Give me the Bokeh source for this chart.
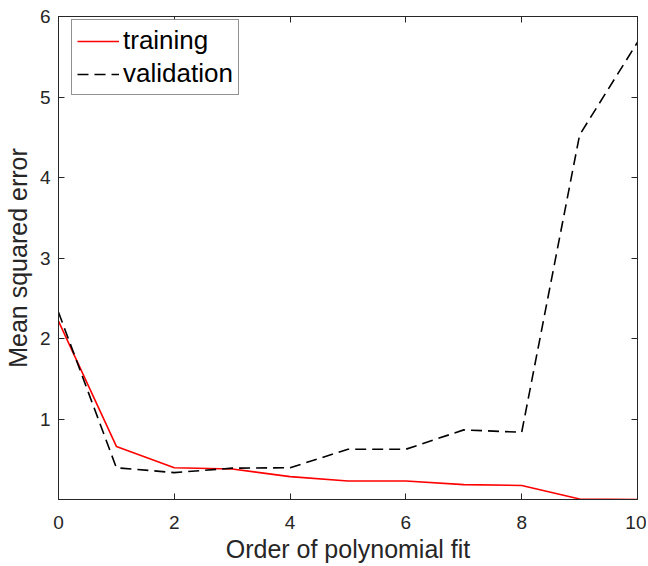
from bokeh.plotting import figure
from bokeh.models import LinearAxis, FixedTicker, Range1d, Legend, LegendItem
from bokeh.embed import file_html
from bokeh.resources import INLINE

order = [0, 1, 2, 3, 4, 5, 6, 7, 8, 9, 10]
training = [2.22, 0.665, 0.40, 0.385, 0.29, 0.235, 0.235, 0.19, 0.18, 0.012, 0.006]
validation = [2.33, 0.40, 0.34, 0.395, 0.40, 0.63, 0.63, 0.87, 0.84, 4.53, 5.68]
x_ticks = [0, 2, 4, 6, 8, 10]
y_ticks = [1, 2, 3, 4, 5, 6]

FONT = "Liberation Sans"
AX = "#262626"

p = figure(output_backend="svg", toolbar_location=None,
           x_range=Range1d(0, 10), y_range=Range1d(0.006, 6),
           frame_width=579, frame_height=483,
           min_border_left=52, min_border_top=16, min_border_right=9, min_border_bottom=56)
p.xgrid.visible = False
p.ygrid.visible = False
p.outline_line_color = AX
p.outline_line_width = 1
p.background_fill_color = "white"
p.border_fill_color = "white"

r1 = p.line(order, training, line_color="#ff0000", line_width=1.6)
r2 = p.line(order, validation, line_color="black", line_width=1.6, line_dash="11 6")

for ax in (p.xaxis[0], p.yaxis[0]):
    ax.major_tick_in = 6
    ax.major_tick_out = 0
    ax.minor_tick_in = 0
    ax.minor_tick_out = 0
    ax.axis_line_color = AX
    ax.major_tick_line_color = AX
    ax.major_label_text_font = FONT
    ax.major_label_text_font_size = "19px"
    ax.major_label_text_color = AX
    ax.axis_label_text_font = FONT
    ax.axis_label_text_font_size = "25px"
    ax.axis_label_text_font_style = "normal"
    ax.axis_label_text_color = AX

p.xaxis[0].ticker = FixedTicker(ticks=x_ticks)
p.yaxis[0].ticker = FixedTicker(ticks=y_ticks)
p.xaxis[0].axis_label = "Order of polynomial fit"
p.yaxis[0].axis_label = "Mean squared error"
p.xaxis[0].major_label_standoff = 16
p.yaxis[0].major_label_standoff = 8
p.xaxis[0].axis_label_standoff = 3
p.yaxis[0].axis_label_standoff = 5

top = LinearAxis(ticker=FixedTicker(ticks=x_ticks),
                 major_label_overrides={t: "" for t in x_ticks})
right = LinearAxis(ticker=FixedTicker(ticks=y_ticks),
                   major_label_overrides={t: "" for t in y_ticks})
for ax in (top, right):
    ax.major_tick_in = 6
    ax.major_tick_out = 0
    ax.minor_tick_in = 0
    ax.minor_tick_out = 0
    ax.axis_line_color = AX
    ax.major_tick_line_color = AX
    ax.major_label_standoff = 0
p.add_layout(top, "above")
p.add_layout(right, "right")

legend = Legend(items=[LegendItem(label="training", renderers=[r1]),
                       LegendItem(label="validation", renderers=[r2])],
                location=(13, 404))
legend.label_text_font = FONT
legend.label_text_font_size = "26px"
legend.label_text_color = "black"
legend.border_line_color = AX
legend.border_line_width = 1
legend.margin = 0
legend.padding = 5
legend.spacing = 2
legend.glyph_width = 42
legend.label_standoff = 4
legend.label_height = 30
legend.glyph_height = 30
p.add_layout(legend)

open("out.html", "w").write(file_html(p, INLINE))
